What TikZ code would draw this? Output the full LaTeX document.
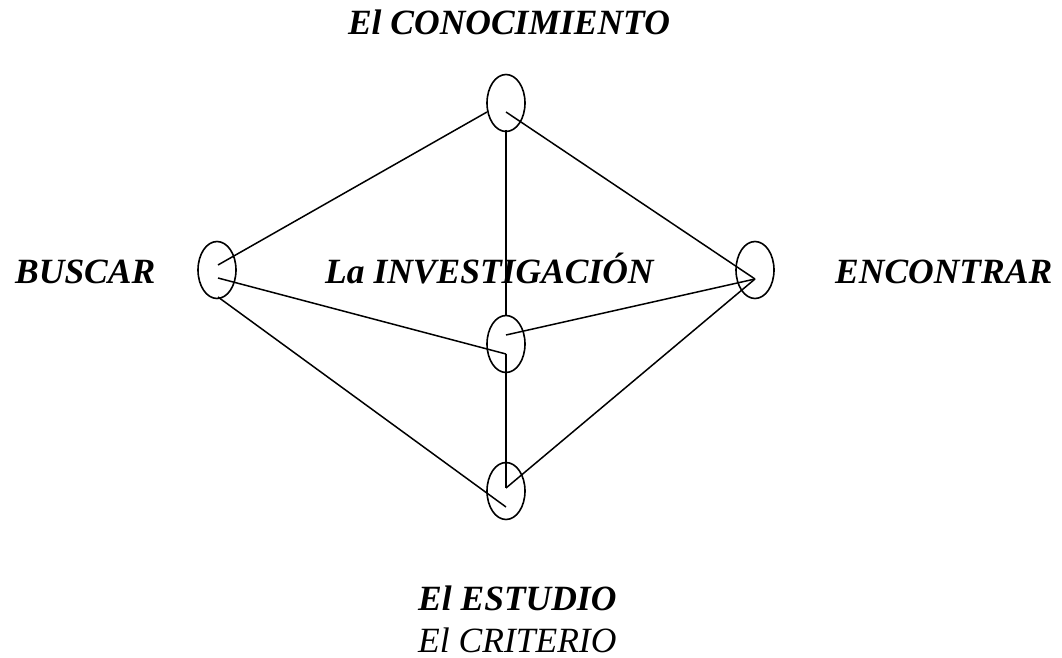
\documentclass[tikz,border=0pt]{standalone}
\usepackage{fontspec}
\setmainfont{Liberation Serif}
\usetikzlibrary{shapes.geometric}
\begin{document}
\begin{tikzpicture}[x=1pt,y=-1pt,
  oval/.style={draw,ellipse,line width=1.6pt,minimum width=38pt,minimum height=57pt,inner sep=0pt},
  link/.style={line width=1.5pt},
  lbl/.style={inner sep=0pt,anchor=base west,font=\fontsize{35.5}{40}\selectfont\bfseries\itshape},
  lblc/.style={inner sep=0pt,anchor=base,font=\fontsize{35.5}{40}\selectfont\bfseries\itshape}]
\useasboundingbox (0,0) rectangle (1062,658);
% ellipses
\node[oval] (top) at (506,103) {};
\node[oval] (left) at (217,270) {};
\node[oval] (right) at (755,270) {};
\node[oval] (mid) at (506,344) {};
\node[oval] (bot) at (506,491) {};
% connector end points
\coordinate (tL) at (487,112);
\coordinate (tR) at (506,112);
\coordinate (tB) at (506,130);
\coordinate (lA) at (218,265);
\coordinate (lB) at (218,278);
\coordinate (lC) at (218,297);
\coordinate (rM) at (755,279);
\coordinate (mT) at (506,315);
\coordinate (mR) at (506,335);
\coordinate (mL) at (506,354);
\coordinate (bT) at (506,488);
\coordinate (bL) at (506,507);
% connectors
\draw[link] (lA) -- (tL);
\draw[link] (tR) -- (rM);
\draw[link] (tB) -- (mT);
\draw[link] (lB) -- (mL);
\draw[link] (mR) -- (rM);
\draw[link] (mL) -- (bT);
\draw[link] (bT) -- (rM);
\draw[link] (lC) -- (bL);
% labels
\node[lblc] (conoc) at (509,35) {El CONOCIMIENTO};
\node[lbl] (buscar) at (15,283) {BUSCAR};
\node[lbl] (inv) at (325,283) {La INVESTIGACIÓN};
\node[lbl] (enc) at (835,283) {ENCONTRAR};
\node[lbl] (est) at (418,610) {El ESTUDIO};
\node[inner sep=0pt,anchor=base west,font=\fontsize{35.5}{40}\selectfont\itshape] (crit) at (418,652) {El CRITERIO};
\end{tikzpicture}
\end{document}
